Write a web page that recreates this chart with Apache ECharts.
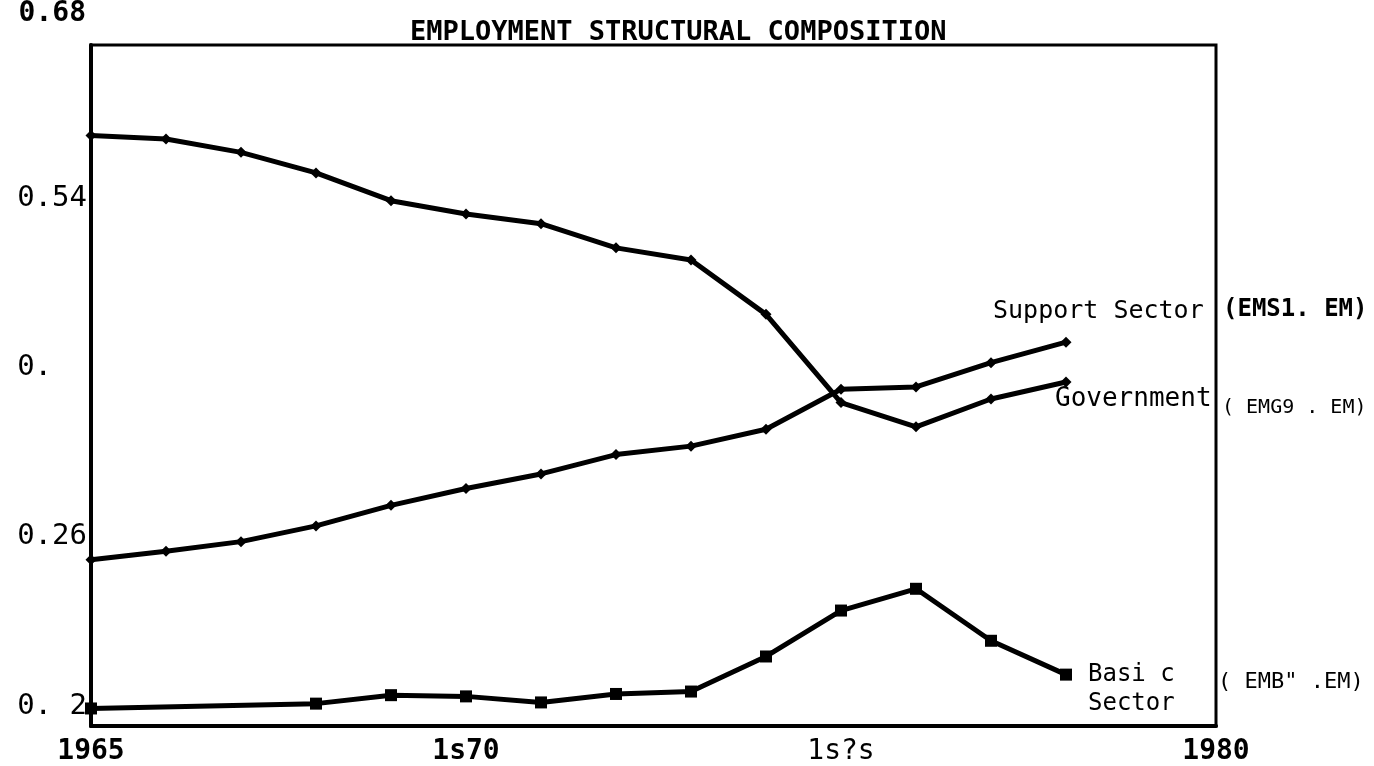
<!DOCTYPE html>
<html>
<head>
<meta charset="utf-8">
<title>Employment Structural Composition</title>
<script src="https://cdn.jsdelivr.net/npm/echarts@6/dist/echarts.min.js"></script>
<style>
  html, body { margin: 0; padding: 0; background: #ffffff; }
  #chart { width: 1374px; height: 766px; }
</style>
</head>
<body>
<div id="chart"></div>
<script>
// ---- data (shares of total employment) ----
const supportYears  = [1965, 1966, 1967, 1968, 1969, 1970, 1971, 1972, 1973, 1974, 1975, 1976, 1977, 1978];
const supportValues = [0.241, 0.248, 0.256, 0.269, 0.286, 0.300, 0.312, 0.328, 0.335, 0.349, 0.382, 0.384, 0.404, 0.421];

const governmentYears  = [1965, 1966, 1967, 1968, 1969, 1970, 1971, 1972, 1973, 1974, 1975, 1976, 1977, 1978];
const governmentValues = [0.592, 0.589, 0.578, 0.561, 0.538, 0.527, 0.519, 0.499, 0.489, 0.444, 0.371, 0.351, 0.374, 0.388];

const basicYears  = [1965, 1968, 1969, 1970, 1971, 1972, 1973, 1974, 1975, 1976, 1977, 1978];
const basicValues = [0.118, 0.122, 0.129, 0.128, 0.123, 0.130, 0.132, 0.161, 0.199, 0.217, 0.174, 0.146];

// ---- axis ticks and labels (as printed) ----
const xTickValues = [1965, 1970, 1975, 1980];
const xTickLabels = ['1965', '1s70', '1s?s', '1980'];
const yTickValues = [0.12, 0.26, 0.40, 0.54];
const yTickLabels = ['0. 2', '0.26', '0.  ', '0.54'];
const yTopLabel = '0.68';

const titleText = 'EMPLOYMENT STRUCTURAL COMPOSITION';
const seriesNames = ['Support Sector', 'Government', 'Basic Sector'];

function pairs(xs, ys) { return xs.map((x, i) => [x, ys[i]]); }

const MONO = '"DejaVu Sans Mono", "Liberation Mono", monospace';

const chart = echarts.init(document.getElementById('chart'), null, { renderer: 'canvas' });

const option = {
  animation: false,
  backgroundColor: '#ffffff',
  title: {
    text: titleText,
    left: 405,
    top: 14,
    textStyle: { fontFamily: MONO, fontSize: 27, fontWeight: 'bold', color: '#000' }
  },
  grid: {
    left: 91, right: 158, top: 44, bottom: 38,
    show: true, borderColor: '#000', borderWidth: 3, backgroundColor: 'transparent'
  },
  xAxis: {
    type: 'value',
    min: 1965, max: 1980,
    axisLine: { show: true, lineStyle: { color: '#000', width: 4 } },
    axisTick: { show: false },
    splitLine: { show: false },
    axisLabel: {
      customValues: xTickValues,
      margin: 12,
      formatter: function (v) {
        const i = xTickValues.indexOf(Math.round(v));
        const t = i >= 0 ? xTickLabels[i] : '';
        return t === '1s?s' ? '{n|' + t + '}' : '{b|' + t + '}';
      },
      rich: {
        b: { fontFamily: MONO, fontSize: 28, fontWeight: 'bold', color: '#000' },
        n: { fontFamily: MONO, fontSize: 28, fontWeight: 'normal', color: '#000' }
      }
    }
  },
  yAxis: {
    type: 'value',
    min: 0.1035, max: 0.6668,
    name: yTopLabel,
    nameLocation: 'end',
    nameGap: 31,
    nameTextStyle: {
      fontFamily: MONO, fontSize: 28, fontWeight: 'bold', color: '#000',
      align: 'right', verticalAlign: 'middle', padding: [0, 5, 0, 0]
    },
    axisLine: { show: true, lineStyle: { color: '#000', width: 4 } },
    axisTick: { show: false },
    splitLine: { show: false },
    axisLabel: {
      customValues: yTickValues,
      margin: 4,
      fontFamily: MONO,
      fontSize: 29,
      color: '#000',
      formatter: function (v) {
        let best = -1, d = 1;
        yTickValues.forEach((t, i) => { if (Math.abs(t - v) < d) { d = Math.abs(t - v); best = i; } });
        return best >= 0 && d < 0.005 ? yTickLabels[best] : '';
      }
    }
  },
  series: [
    {
      name: seriesNames[0],
      type: 'line',
      data: pairs(supportYears, supportValues),
      symbol: 'diamond', symbolSize: 11,
      lineStyle: { color: '#000', width: 5 },
      itemStyle: { color: '#000' }
    },
    {
      name: seriesNames[1],
      type: 'line',
      data: pairs(governmentYears, governmentValues),
      symbol: 'diamond', symbolSize: 11,
      lineStyle: { color: '#000', width: 5 },
      itemStyle: { color: '#000' }
    },
    {
      name: seriesNames[2],
      type: 'line',
      data: pairs(basicYears, basicValues),
      symbol: 'rect', symbolSize: 12,
      lineStyle: { color: '#000', width: 5 },
      itemStyle: { color: '#000' }
    }
  ],
  graphic: [
    { type: 'text', left: 993, top: 299, style: { text: 'Support Sector', font: '25px ' + MONO, fill: '#000' } },
    { type: 'text', left: 1223, top: 298, style: { text: '(EMS1. EM)', font: 'bold 24px ' + MONO, fill: '#000' } },
    { type: 'text', left: 1055, top: 386, style: { text: 'Government', font: '26px ' + MONO, fill: '#000' } },
    { type: 'text', left: 1222, top: 398, style: { text: '( EMG9 . EM)', font: '20px ' + MONO, fill: '#000' } },
    { type: 'text', left: 1088, top: 660, style: { text: 'Basi c\nSector', font: '24px ' + MONO, fill: '#000', lineHeight: 29 } },
    { type: 'text', left: 1218, top: 671, style: { text: '( EMB" .EM)', font: '22px ' + MONO, fill: '#000' } }
  ]
};

chart.setOption(option);
</script>
</body>
</html>
